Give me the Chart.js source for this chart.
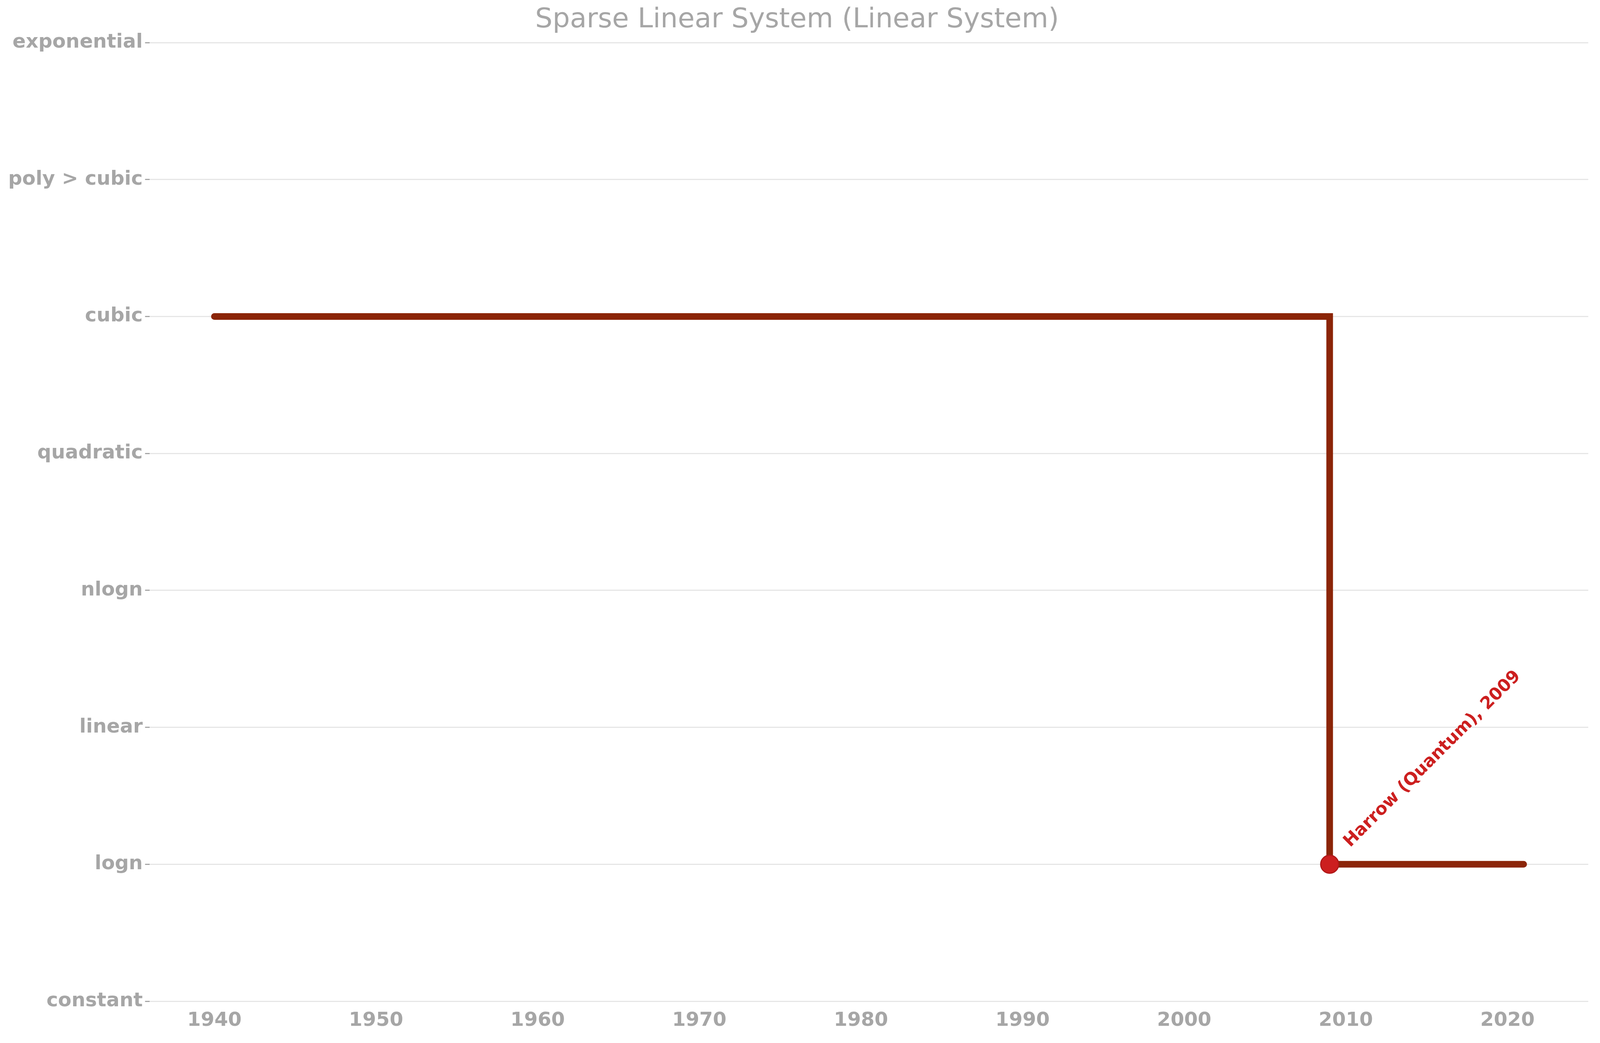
<!DOCTYPE html>
<html>
<head>
<meta charset="utf-8">
<script src="https://cdn.jsdelivr.net/npm/chart.js@4/dist/chart.umd.min.js"></script>
<style>
  html, body { margin: 0; padding: 0; background: #fff; overflow: hidden; }
  #wrap { width: 100vw; height: 100vh; position: relative; }
</style>
</head>
<body>
<div id="wrap"><canvas id="chart"></canvas></div>
<script>
// ===== Data =====
const complexityLabels = ['constant','logn','linear','nlogn','quadratic','cubic','poly > cubic','exponential'];
const years = [1940, 2009, 2009, 2021];
const levels = [5, 5, 1, 1];
const markYears = [2009];
const markLevels = [1];
const markLabels = ['Harrow (Quantum), 2009'];
const xTicks = [1940, 1950, 1960, 1970, 1980, 1990, 2000, 2010, 2020];

const grey = '#a6a6a6';

// annotation text next to the marked point
const notePlugin = {
  id: 'notes',
  afterDatasetsDraw(chart) {
    const { ctx, scales: { x, y } } = chart;
    ctx.save();
    ctx.fillStyle = '#cc1f1f';
    ctx.font = 'bold 44px "DejaVu Sans"';
    ctx.textBaseline = 'bottom';
    markLabels.forEach((t, i) => {
      const px = x.getPixelForValue(markYears[i]) + 60;
      const py = y.getPixelForValue(markLevels[i]) - 35;
      ctx.save();
      ctx.translate(px, py);
      ctx.rotate(-Math.PI / 4);
      ctx.fillText(t, 0, 0);
      ctx.restore();
    });
    ctx.restore();
  }
};

new Chart(document.getElementById('chart'), {
  type: 'line',
  data: {
    datasets: [
      {
        data: years.map((v, i) => ({ x: v, y: levels[i] })),
        borderColor: '#8b2508',
        borderWidth: 17,
        borderCapStyle: 'round',
        borderJoinStyle: 'miter',
        pointRadius: 0,
        fill: false,
        order: 2
      },
      {
        data: markYears.map((v, i) => ({ x: v, y: markLevels[i] })),
        showLine: false,
        pointRadius: 23,
        pointBackgroundColor: '#cc1f1f',
        pointBorderColor: '#b01818',
        pointBorderWidth: 3,
        order: 1
      }
    ]
  },
  options: {
    responsive: true,
    maintainAspectRatio: false,
    animation: false,
    layout: { padding: { top: 0, right: 30, left: 15, bottom: 15 } },
    plugins: {
      legend: { display: false },
      tooltip: { enabled: false },
      title: {
        display: true,
        text: 'Sparse Linear System (Linear System)',
        color: grey,
        font: { family: 'DejaVu Sans', size: 70, weight: 'normal' },
        padding: { top: 10, bottom: 15 }
      }
    },
    scales: {
      x: {
        type: 'linear',
        min: 1936, max: 2025,
        afterBuildTicks: s => { s.ticks = xTicks.map(v => ({ value: v })); },
        ticks: { color: grey, font: { family: 'DejaVu Sans', size: 50, weight: 'bold' }, padding: 12,
                 callback: v => String(v) },
        grid: { display: false },
        border: { display: false }
      },
      y: {
        type: 'linear',
        min: 0, max: 7,
        ticks: {
          stepSize: 1,
          color: grey,
          font: { family: 'DejaVu Sans', size: 50, weight: 'bold' },
          padding: 6,
          callback: v => complexityLabels[v]
        },
        grid: { color: '#e6e6e6', lineWidth: 3, tickLength: 12, tickColor: grey },
        border: { display: false }
      }
    }
  },
  plugins: [notePlugin]
});
</script>
</body>
</html>
